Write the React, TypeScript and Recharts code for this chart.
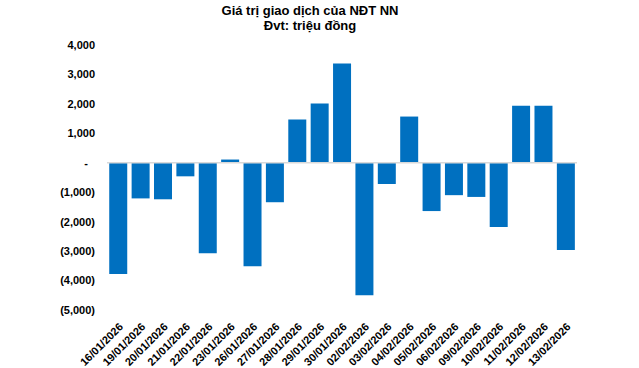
import React from "react";
import { BarChart, Bar, XAxis, YAxis, ReferenceLine } from "recharts";

const categories = [
  "16/01/2026", "19/01/2026", "20/01/2026", "21/01/2026", "22/01/2026", "23/01/2026",
  "26/01/2026", "27/01/2026", "28/01/2026", "29/01/2026", "30/01/2026", "02/02/2026",
  "03/02/2026", "04/02/2026", "05/02/2026", "06/02/2026", "09/02/2026", "10/02/2026",
  "11/02/2026", "12/02/2026", "13/02/2026",
];
const values = [
  -3780, -1210, -1240, -460, -3070, 110, -3510, -1340, 1470, 2010, 3370, -4500,
  -720, 1570, -1640, -1100, -1160, -2180, 1940, 1940, -2960,
];
const yTicks = [-5000, -4000, -3000, -2000, -1000, 0, 1000, 2000, 3000, 4000];

const data = categories.map((c, i) => ({ date: c, value: values[i] }));

const FONT = "'Liberation Sans', Arial, sans-serif";

const fmt = (v: number) => {
  if (v === 0) return "-";
  const s = Math.abs(v).toLocaleString("en-US");
  return v < 0 ? `(${s})` : s;
};

const YTick = (props: any) => {
  const { x, y, payload } = props;
  const v = payload.value as number;
  const dx = v === 0 ? -7 : 0;
  return (
    <text x={x + dx} y={y} dy="0.355em" textAnchor="end" fontFamily={FONT} fontSize={11} fontWeight="bold" fill="#000">
      {fmt(v)}
    </text>
  );
};

const XTick = (props: any) => {
  const { x, y, payload } = props;
  return (
    <g transform={`translate(${x},${y + 4})`}>
      <text x={0} y={0} dy="0.71em" textAnchor="end" transform="rotate(-45)" fontFamily={FONT} fontSize={11} fontWeight="bold" fill="#000">
        {payload.value}
      </text>
    </g>
  );
};

export default function App() {
  return (
    <div style={{ position: "absolute", left: 0, top: 0, width: 639, height: 368, background: "#fff" }}>
      <div style={{ position: "absolute", left: 0, top: 3, width: 620, textAlign: "center", fontFamily: FONT, fontWeight: "bold", fontSize: 13, lineHeight: "15px", color: "#000" }}>
        <div>Giá trị giao dịch của NĐT NN</div>
        <div>Đvt: triệu đồng</div>
      </div>
      <div style={{ position: "absolute", left: 0, top: 0 }}>
        <BarChart width={639} height={368} data={data} margin={{ top: 45, right: 62, bottom: 0, left: 47 }} barCategoryGap="10%">
          <XAxis dataKey="date" axisLine={false} tickLine={false} interval={0} height={58} tick={<XTick />} />
          <YAxis domain={[-5000, 4000]} ticks={yTicks} axisLine={false} tickLine={false} width={60} tickSize={0} tickMargin={12} tick={<YTick />} interval={0} />
          <Bar dataKey="value" fill="#0070C0" isAnimationActive={false} />
          <ReferenceLine y={0} stroke="#D9D9D9" strokeWidth={1.5} />
        </BarChart>
      </div>
    </div>
  );
}
